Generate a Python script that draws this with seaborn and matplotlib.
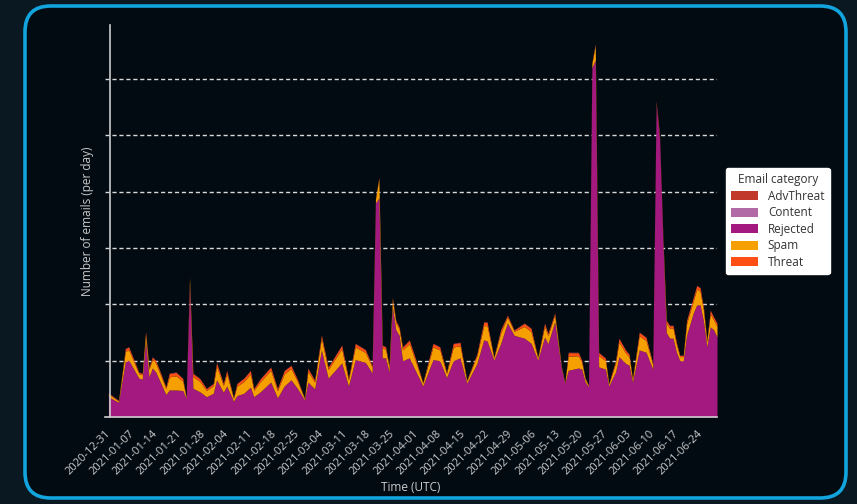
import pandas as pd
import matplotlib
matplotlib.use('Agg')
import matplotlib.pyplot as plt
import matplotlib.dates as mdates
from matplotlib.patches import FancyBboxPatch, Patch
import seaborn as sns

day = [1, 4, 6, 7, 10, 11, 12, 13, 14, 15,
       18, 19, 21, 23, 24, 25, 26, 28, 30, 32,
       33, 35, 36, 38, 39, 41, 43, 44, 46, 49,
       51, 53, 55, 57, 59, 60, 62, 64, 66, 70,
       72, 74, 77, 79, 80, 81, 82, 83, 84, 85,
       86, 87, 88, 90, 92, 94, 97, 99, 101, 103,
       105, 107, 110, 112, 113, 115, 117, 119, 121, 124,
       126, 128, 130, 131, 133, 135, 136, 137, 140, 141,
       142, 143, 144, 145, 146, 148, 149, 151, 152, 154,
       155, 156, 158, 160, 162, 163, 164, 165, 166, 167,
       168, 169, 170, 171, 172, 174, 175, 176, 177, 178,
       179, 180, 181]

rejected = [360, 260, 980, 1010, 690, 670, 1350, 710, 870, 800,
            400, 480, 480, 470, 330, 2350, 510, 450, 360, 420,
            660, 440, 550, 280, 380, 420, 530, 360, 450, 620,
            340, 550, 660, 500, 300, 620, 500, 1190, 690, 960,
            550, 1020, 970, 780, 3800, 3890, 1050, 1050, 800, 1950,
            1550, 1450, 1000, 1050, 800, 550, 1020, 1000, 700, 1000,
            1050, 600, 950, 1370, 1350, 1010, 1300, 1670, 1450, 1400,
            1310, 1010, 1420, 1300, 1690, 850, 600, 830, 870, 850,
            620, 540, 6200, 6340, 890, 850, 550, 800, 1070, 950,
            920, 620, 1190, 1150, 850, 5550, 4950, 3120, 1500, 1400,
            1400, 1150, 1000, 1000, 1450, 1850, 1990, 1990, 1700, 1250,
            1600, 1550, 1420]

spam = [48, 24, 184, 184, 80, 80, 128, 136, 152, 160,
        104, 232, 252, 168, 16, 104, 208, 184, 112, 136,
        242, 120, 216, 48, 168, 208, 232, 112, 184, 208,
        128, 216, 200, 120, 24, 192, 120, 208, 152, 252,
        104, 224, 176, 104, 72, 342, 176, 152, 88, 136,
        128, 112, 192, 252, 160, 48, 224, 192, 72, 242,
        216, 40, 136, 252, 272, 40, 192, 104, 72, 208,
        208, 40, 192, 144, 120, 24, 8, 252, 216, 120,
        56, 16, 72, 262, 200, 152, 32, 160, 262, 184,
        152, 48, 252, 208, 80, 12, 12, 52, 168, 176,
        176, 136, 72, 72, 208, 216, 282, 242, 192, 88,
        232, 176, 192]

threat = [14, 8, 48, 48, 22, 22, 34, 36, 40, 42,
          28, 60, 60, 44, 6, 28, 54, 48, 30, 36,
          60, 32, 56, 14, 44, 54, 60, 30, 48, 54,
          34, 56, 52, 32, 8, 50, 32, 54, 40, 60,
          28, 58, 46, 28, 20, 20, 46, 40, 24, 36,
          34, 30, 50, 60, 42, 14, 58, 50, 20, 60,
          56, 12, 36, 60, 60, 12, 50, 28, 20, 54,
          54, 12, 50, 38, 32, 8, 4, 60, 56, 32,
          16, 6, 20, 20, 52, 40, 10, 42, 60, 48,
          40, 14, 60, 54, 22, 30, 30, 20, 44, 46,
          46, 36, 20, 20, 54, 56, 60, 60, 50, 24,
          60, 46, 50]

advthreat = [5, 5, 5, 5, 5, 5, 5, 5, 5, 5,
             5, 5, 5, 5, 5, 5, 5, 5, 5, 5,
             5, 5, 5, 5, 5, 5, 5, 5, 5, 5,
             5, 5, 5, 5, 5, 5, 5, 5, 5, 5,
             5, 5, 5, 5, 5, 5, 5, 5, 5, 5,
             5, 5, 5, 5, 5, 5, 5, 5, 5, 5,
             5, 5, 5, 5, 5, 5, 5, 5, 5, 5,
             5, 5, 5, 5, 5, 5, 5, 5, 5, 5,
             5, 5, 5, 5, 5, 5, 5, 5, 5, 5,
             5, 5, 5, 5, 5, 20, 20, 5, 5, 5,
             5, 5, 5, 5, 5, 5, 5, 5, 5, 5,
             5, 5, 5]

content = [3, 3, 3, 3, 3, 3, 3, 3, 3, 3,
           3, 3, 3, 3, 3, 3, 3, 3, 3, 3,
           3, 3, 3, 3, 3, 3, 3, 3, 3, 3,
           3, 3, 3, 3, 3, 3, 3, 3, 3, 3,
           3, 3, 3, 3, 3, 3, 3, 3, 3, 3,
           3, 3, 3, 3, 3, 3, 3, 3, 3, 3,
           3, 3, 3, 3, 3, 3, 3, 3, 3, 3,
           3, 3, 3, 3, 3, 3, 3, 3, 3, 3,
           3, 3, 3, 3, 3, 3, 3, 3, 3, 3,
           3, 3, 3, 3, 3, 3, 3, 3, 3, 3,
           3, 3, 3, 3, 3, 3, 3, 3, 3, 3,
           3, 3, 3]

categories = ['AdvThreat', 'Content', 'Rejected', 'Spam', 'Threat']
colors = {'AdvThreat': '#c0392b', 'Content': '#b16aa6', 'Rejected': '#a3197f',
          'Spam': '#f5a000', 'Threat': '#ff4f14'}

dates = pd.Timestamp('2020-12-31') + pd.to_timedelta(day, unit='D')
df = pd.DataFrame({'Rejected': rejected, 'Spam': spam, 'Threat': threat,
                   'AdvThreat': advthreat, 'Content': content}, index=dates)
stack_order = ['Rejected', 'Spam', 'Threat', 'AdvThreat', 'Content']

sns.set_style('white')
plt.rcParams['font.family'] = ['Open Sans', 'DejaVu Sans']
fg = '#cccccc'

fig = plt.figure(figsize=(8.57, 5.04), dpi=100, facecolor='#0a1822')
# rounded card behind the chart
card = FancyBboxPatch((25 / 857, 6 / 504), 821 / 857, 492 / 504,
                      boxstyle='round,pad=0,rounding_size=0.03', mutation_aspect=857 / 504,
                      transform=fig.transFigure, facecolor='#020b12', edgecolor='#12a4dc',
                      linewidth=2.6, zorder=-10)
fig.patches.append(card)

ax = fig.add_axes([105 / 857, 87 / 504, 612 / 857, 392 / 504])
ax.set_facecolor('none')
ax.set_zorder(5)

ax.stackplot(df.index, [df[c] for c in stack_order],
             colors=[colors[c] for c in stack_order], linewidth=0)

ax.set_xlim(pd.Timestamp('2020-12-31'), pd.Timestamp('2021-06-30'))
ax.set_ylim(0, 6960)
ax.set_yticks([0, 1000, 2000, 3000, 4000, 5000, 6000])
ax.set_yticklabels([])
ticks = pd.date_range('2020-12-31', '2021-06-24', freq='7D')
ax.set_xticks(ticks)
ax.set_xticklabels([t.strftime('%Y-%m-%d') for t in ticks], rotation=45, ha='right',
                   rotation_mode='anchor', fontsize=8, color=fg)
ax.tick_params(axis='both', colors=fg, length=5, width=1, direction='out')
ax.tick_params(axis='y', length=6)
ax.tick_params(axis='x', pad=3)

ax.set_axisbelow(True)
ax.yaxis.grid(True, linestyle=(0, (3, 2)), color='#d8d8d8', linewidth=1)
ax.xaxis.grid(False)

sns.despine(ax=ax)
for s in ['left', 'bottom']:
    ax.spines[s].set_color(fg)
    ax.spines[s].set_linewidth(1.2)
# y axis line sits where the data begins
ax.spines['left'].set_position(('data', mdates.date2num(pd.Timestamp('2021-01-01 12:00'))))

ax.set_xlabel('Time (UTC)', fontsize=8.5, color=fg, labelpad=3)
ax.set_ylabel('Number of emails (per day)', fontsize=8.5, color=fg, labelpad=2)

handles = [Patch(facecolor=colors[c], edgecolor='none') for c in categories]
leg = ax.legend(handles, categories, title='Email category', loc='center left',
                bbox_to_anchor=(1.005, 0.5), fontsize=8.5, title_fontsize=8.5,
                frameon=True, facecolor='white', edgecolor='white', framealpha=1,
                handlelength=2.3, handleheight=0.8, borderpad=0.45, labelspacing=0.3,
                handletextpad=0.8)
for t in leg.get_texts():
    t.set_color('#333333')
leg.get_title().set_color('#333333')

fig.savefig('out.png', dpi=100, facecolor=fig.get_facecolor())
